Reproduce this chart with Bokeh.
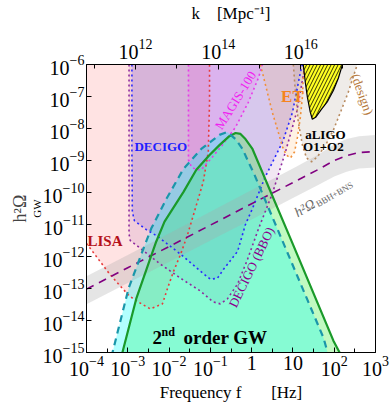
import numpy as np
from bokeh.plotting import figure
from bokeh.models import Range1d, LogScale, LogAxis, FixedTicker, Label, Title
from bokeh.embed import file_html
from bokeh.resources import INLINE

FONT = "Liberation Serif"
K_PER_HZ = 6.47e14  # k [Mpc^-1] = 2*pi*f/c
NB = "\u00a0"

# ---------------- data: log10(f / Hz) and log10(h^2 Omega_GW) ----------------
gw_solid_logf = [-3.23, -3.13, -2.79, -2.48, -2.31, -2.11, -1.65, -1.34, -1.02, -0.78, -0.54, -0.39,
                 -0.27, -0.15, 0.02, 0.99, 1.98, 2.13, 2.29]
gw_solid_logom = [-15.5, -15.0, -13.30, -12.15, -11.53, -10.91, -9.98, -9.29, -8.83, -8.52, -8.24, -8.14,
                  -8.17, -8.33, -8.64, -11.59, -14.63, -15.0, -15.5]

gw_dash_logf = [-3.47, -3.37, -2.98, -2.62, -2.43, -2.06, -1.65, -1.22, -0.78, -0.59, -0.39, -0.22,
                -0.08, 0.07, 1.74, 1.84, 2.05]
gw_dash_logom = [-15.5, -15.0, -12.99, -11.75, -11.12, -10.19, -9.26, -8.64, -8.20, -8.11, -8.33, -8.64,
                 -9.04, -9.45, -14.54, -15.0, -15.5]

lisa_logf = [-4.0, -3.44, -2.96, -2.67, -2.45, -2.16, -2.02, -1.89, -1.72, -1.55, -1.17, -1.05, -1.02, -1.02]
lisa_logom = [-11.59, -12.55, -13.24, -13.48, -13.64, -13.48, -12.93, -12.46, -11.93, -11.31, -9.66, -8.73,
              -7.18, -6.0]

decigo_logf = [-2.90, -2.90, -2.89, -2.84, -2.55, -2.28, -1.72, -1.24, -1.00, -0.83, -0.68, -0.34, -0.15,
               0.02, 0.33, 0.75, 0.99, 1.18, 1.23]
decigo_logom = [-6.0, -8.73, -10.60, -10.88, -11.16, -11.37, -11.93, -12.46, -12.71, -12.68, -12.40, -11.84,
                -11.0, -10.50, -9.51, -8.42, -7.49, -6.25, -6.0]

bbo_logf = [-2.97, -2.97, -2.94, -2.69, -2.21, -1.72, -1.24, -0.93, -0.76, -0.59, -0.34, -0.10, 0.17,
            0.50, 0.82, 1.09, 1.30]
bbo_logom = [-6.0, -11.30, -11.50, -11.75, -12.24, -12.68, -13.08, -13.42, -13.48, -13.33, -12.86, -12.09,
             -11.12, -10.04, -8.73, -7.49, -6.0]

magis_logf = [-1.53, -1.53, -1.46, -1.34, -1.22, -1.12, -0.95, -0.71, -0.39, -0.08, 0.17, 0.26]
magis_logom = [-6.0, -8.98, -9.20, -9.29, -9.29, -9.14, -8.89, -8.52, -7.96, -7.18, -6.40, -6.0]

et_logf = [0.21, 0.29, 0.38, 0.50, 0.63, 0.75, 0.84, 0.94, 1.04, 1.11, 1.18, 1.23, 1.25, 1.28]
et_logom = [-6.0, -6.40, -6.87, -7.49, -8.05, -8.58, -8.83, -8.92, -8.73, -8.27, -7.65, -7.02, -6.40, -6.0]

ligo_design_logf = [1.01, 1.06, 1.13, 1.23, 1.33, 1.45, 1.59, 1.79, 1.98, 2.17, 2.34, 2.51, 2.56]
ligo_design_logom = [-6.0, -6.87, -7.80, -8.52, -8.92, -9.04, -8.89, -8.52, -8.05, -7.43, -6.87, -6.19, -6.0]

ligo_o12_logf = [1.25, 1.30, 1.35, 1.42, 1.47, 1.55, 1.69, 1.84, 1.98, 2.10, 2.20]
ligo_o12_logom = [-6.0, -6.56, -7.02, -7.49, -7.71, -7.65, -7.40, -7.15, -6.81, -6.43, -6.0]

bbh_logf = [-4.0, -3.0, -2.0, -1.0, 0.0, 1.0, 1.6, 2.0, 2.3, 2.6, 3.0]
bbh_logom = [-13.02, -12.35, -11.69, -11.02, -10.35, -9.69, -9.29, -9.0, -8.85, -8.75, -8.72]
bbh_band_hi = [-12.62, -11.95, -11.28, -10.60, -9.92, -9.25, -8.83, -8.50, -8.33, -8.24, -8.20]
bbh_band_lo = [-13.49, -12.83, -12.17, -11.50, -10.84, -10.17, -9.77, -9.50, -9.35, -9.25, -9.22]

x_tick_exp = [-4, -3, -2, -1, 0, 1, 2, 3]
y_tick_exp = [-15, -14, -13, -12, -11, -10, -9, -8, -7, -6]
k_tick_exp = [12, 14, 16]
k_minor_exp = [11, 13, 15, 17]


def P(v):
    return [10.0 ** t for t in v]


p = figure(width=390, height=411, x_axis_type="log", y_axis_type="log",
           x_range=Range1d(1e-4, 1e3), y_range=Range1d(1e-15, 1e-6),
           output_backend="svg", toolbar_location=None,
           min_border_left=86, min_border_right=15, min_border_top=62, min_border_bottom=59)
p.xgrid.visible = False
p.ygrid.visible = False
p.outline_line_color = "black"
p.outline_line_width = 1
p.background_fill_color = "white"
p.border_fill_color = "white"

p.extra_x_ranges = {"k": Range1d(1e-4 * K_PER_HZ, 1e3 * K_PER_HZ)}
p.extra_x_scales = {"k": LogScale()}
top = LogAxis(x_range_name="k")
p.add_layout(top, "above")

xa = p.below[0]
ya = p.left[0]
xa.ticker = FixedTicker(ticks=P(x_tick_exp), minor_ticks=[10.0 ** (e + 0.5) for e in x_tick_exp[:-1]])
xa.major_label_overrides = {1: "1", 10: "10"}
ya.ticker = FixedTicker(ticks=P(y_tick_exp), minor_ticks=[])
top.ticker = FixedTicker(ticks=P(k_tick_exp), minor_ticks=P(k_minor_exp))

for ax in (xa, ya, top):
    ax.major_tick_in = 5
    ax.major_tick_out = 0
    ax.minor_tick_in = 4
    ax.minor_tick_out = 0
    ax.major_label_text_font = FONT
    ax.major_label_text_font_size = "20px"
    ax.major_label_text_color = "black"
    ax.axis_line_color = "black"
    ax.major_tick_line_color = "black"
    ax.minor_tick_line_color = "black"
    ax.axis_label_text_font = FONT
    ax.axis_label_text_font_size = "17px"
    ax.axis_label_text_font_style = "normal"
    ax.axis_label_text_color = "black"
xa.major_label_standoff = 3
ya.major_label_standoff = 2
top.major_label_standoff = 6
xa.axis_label = "Frequency f" + NB * 7 + "[Hz]"
xa.axis_label_standoff = 4
top.axis_label = "k" + NB * 4 + "[Mpc⁻¹]"
top.axis_label_standoff = 13

# y-axis title: subscript "GW" as the axis label, "h²Ω" as an outer side title
ya.axis_label = "GW"
ya.axis_label_text_font_size = "11px"
ya.axis_label_standoff = -3
p.add_layout(Title(text="h²Ω", text_font=FONT, text_font_size="18px", text_font_style="normal",
                   align="center", offset=-23, standoff=-4), "left")

# ---------------- detector regions (fills) ----------------
p.patch(P([-4.0] + lisa_logf), P([-6.0] + lisa_logom), fill_color="#ff8080", fill_alpha=0.22, line_color=None)
p.patch(P(decigo_logf), P(decigo_logom), fill_color="#7050e0", fill_alpha=0.2, line_color=None)
p.patch(P(bbo_logf), P(bbo_logom), fill_color="#8a3aa0", fill_alpha=0.12, line_color=None)
p.patch(P(magis_logf), P(magis_logom), fill_color="#ff00ff", fill_alpha=0.1, line_color=None)
p.patch(P(et_logf), P(et_logom), fill_color="#ffa040", fill_alpha=0.14, line_color=None)
p.patch(P(ligo_design_logf), P(ligo_design_logom), fill_color="#b0a090", fill_alpha=0.2, line_color=None)

# ---------------- 2nd-order GW fills ----------------
p.varea(x=P(gw_solid_logf), y1=1e-16, y2=P(gw_solid_logom), fill_color="#33ee33", fill_alpha=0.3)
p.varea(x=P(gw_dash_logf), y1=1e-16, y2=P(gw_dash_logom), fill_color="#00ffff", fill_alpha=0.3)

# ---------------- BBH+BNS band ----------------
p.varea(x=P(bbh_logf), y1=P(bbh_band_lo), y2=P(bbh_band_hi), fill_color="#aaaaaa", fill_alpha=0.3)

# ---------------- detector curves ----------------
dot = dict(line_width=1.6, line_dash="2 3")
p.line(P(lisa_logf), P(lisa_logom), line_color="#e83a3a", **dot)
p.line(P(decigo_logf), P(decigo_logom), line_color="#2a2aff", **dot)
p.line(P(bbo_logf), P(bbo_logom), line_color="#8e2a9e", **dot)
p.line(P(magis_logf), P(magis_logom), line_color="#e83ae8", **dot)
p.line(P(et_logf), P(et_logom), line_color="#f0903a", **dot)
p.line(P(ligo_design_logf), P(ligo_design_logom), line_color="#b88a5e", **dot)

p.patch(P(ligo_o12_logf), P(ligo_o12_logom), fill_color="#ffff22", line_color="black", line_width=1.2,
        hatch_pattern="/", hatch_color="black", hatch_weight=0.8, hatch_scale=7)

p.line(P(bbh_logf), P(bbh_logom), line_color="#800080", line_width=1.6, line_dash="8 6")

p.line(P(gw_solid_logf), P(gw_solid_logom), line_color="#1a9a2a", line_width=2.2)
p.line(P(gw_dash_logf), P(gw_dash_logom), line_color="#1a96aa", line_width=2.2, line_dash="7 5")


# ---------------- text inside the frame ----------------
def lab(text, lf, lo, size, color="black", style="normal", angle=0.0, align="left", baseline="alphabetic"):
    p.add_layout(Label(x=10.0 ** lf, y=10.0 ** lo, text=text, text_font=FONT, text_font_size=size,
                       text_color=color, text_font_style=style, angle=angle, angle_units="deg",
                       text_align=align, text_baseline=baseline))


lab("LISA", -3.976, -11.53, "15px", "#b5121b", "bold")
lab("DECIGO", -2.838, -8.578, "13px", "#1f1fff", "bold")
lab("MAGIS-100", -0.392, -7.118, "13px", "#f020f0", angle=58, align="center", baseline="middle")
lab("ET", 0.988, -6.994, "17px", "#f5841f", "bold", align="center", baseline="middle")
lab("(design)", 2.683, -6.932, "13px", "#b5773a", angle=-70, align="center", baseline="middle")
lab("aLIGO", 1.787, -8.174, "13px", "black", "bold", align="center")
lab("O1+O2", 1.738, -8.578, "13px", "black", "bold", align="center")
lab("DECIGO (BBO)", -0.005, -12.335, "13px", "#8b008b", angle=64, align="center", baseline="middle")
lab("2", -2.402, -14.540, "19px", "black", "bold")
lab("nd", -2.184, -14.354, "12px", "black", "bold")
lab("order GW", -1.651, -14.540, "19px", "black", "bold")
lab("h²Ω", 1.061, -10.658, "14px", "#6a6a6a", "italic", angle=30)
lab("BBH+BNS", 1.579, -10.382, "9px", "#6a6a6a", angle=30)

open("out.html", "w").write(file_html(p, INLINE))
